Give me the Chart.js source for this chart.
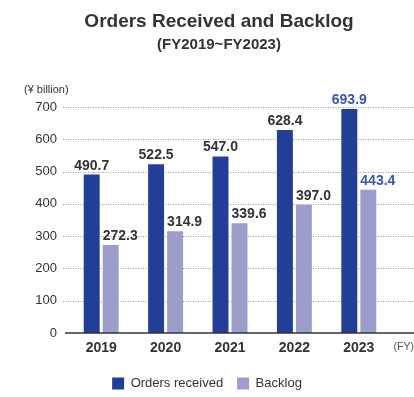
<!DOCTYPE html>
<html>
<head>
<meta charset="utf-8">
<script src="https://cdn.jsdelivr.net/npm/chart.js@4/dist/chart.umd.min.js"></script>
<style>
  html, body { margin: 0; padding: 0; background: #fff; }
  #wrap { width: 414px; height: 397px; position: relative; }
</style>
</head>
<body>
<div id="wrap"><canvas id="myChart" width="414" height="397"></canvas></div>
<script>
const years = ['2019', '2020', '2021', '2022', '2023'];
const ordersReceived = [490.7, 522.5, 547.0, 628.4, 693.9];
const backlog = [272.3, 314.9, 339.6, 397.0, 443.4];
const yTicks = [0, 100, 200, 300, 400, 500, 600, 700];

const fontFamily = "'Liberation Sans', Arial, Helvetica, sans-serif";
const textColor = '#333333';
const highlightColor = '#3a56b0';

// titles, unit labels, dotted grid, base line and value labels
const extrasPlugin = {
    id: 'extras',
    beforeDatasetsDraw(chart) {
        const ctx = chart.ctx;
        const y = chart.scales.y;
        ctx.save();
        ctx.strokeStyle = '#9a9a9a';
        ctx.lineWidth = 1;
        ctx.setLineDash([1, 1.5]);
        yTicks.forEach(t => {
            if (t === 0) return;
            const py = Math.round(y.getPixelForValue(t)) + 0.5;
            ctx.beginPath();
            ctx.moveTo(63, py);
            ctx.lineTo(414, py);
            ctx.stroke();
        });
        ctx.restore();
    },
    afterDatasetsDraw(chart) {
        const ctx = chart.ctx;
        const y = chart.scales.y;
        ctx.save();

        // base line
        const py0 = y.getPixelForValue(0);
        ctx.strokeStyle = '#333';
        ctx.lineWidth = 1.5;
        ctx.beginPath();
        ctx.moveTo(65, py0);
        ctx.lineTo(414, py0);
        ctx.stroke();

        // title
        ctx.fillStyle = textColor;
        ctx.textAlign = 'center';
        ctx.textBaseline = 'middle';
        ctx.font = 'bold 19px ' + fontFamily;
        ctx.fillText('Orders Received and Backlog', 219, 22);
        ctx.font = 'bold 15px ' + fontFamily;
        ctx.fillText('(FY2019~FY2023)', 219, 45);

        // unit labels
        ctx.font = '11px ' + fontFamily;
        ctx.textAlign = 'left';
        ctx.fillText('(\u00a5 billion)', 24, 90);
        ctx.fillStyle = '#555';
        ctx.font = '10.5px ' + fontFamily;
        ctx.textAlign = 'right';
        ctx.fillText('(FY)', 414, 347);

        // value labels: orders centred over the bar, backlog starting at the bar's left edge
        ctx.font = 'bold 14px ' + fontFamily;
        ctx.textBaseline = 'alphabetic';
        chart.data.datasets.forEach((ds, i) => {
            chart.getDatasetMeta(i).data.forEach((bar, j) => {
                ctx.fillStyle = j === years.length - 1 ? highlightColor : textColor;
                if (i === 0) {
                    ctx.textAlign = 'center';
                    ctx.fillText(ds.data[j].toFixed(1), bar.x, bar.y - 5);
                } else {
                    ctx.textAlign = 'left';
                    ctx.fillText(ds.data[j].toFixed(1), bar.x - bar.width / 2, bar.y - 5);
                }
            });
        });
        ctx.restore();
    }
};

const ctx = document.getElementById('myChart').getContext('2d');
const myChart = new Chart(ctx, {
    type: 'bar',
    data: {
        labels: years,
        datasets: [
            {
                label: 'Orders received',
                data: ordersReceived,
                backgroundColor: '#233e96',
                categoryPercentage: 0.59,
                barPercentage: 0.84
            },
            {
                label: 'Backlog',
                data: backlog,
                backgroundColor: '#9d9dcc',
                categoryPercentage: 0.59,
                barPercentage: 0.84
            }
        ]
    },
    options: {
        responsive: false,
        animation: false,
        devicePixelRatio: 1,
        layout: {
            padding: { top: 107, right: 0, left: 0, bottom: -3 }
        },
        scales: {
            x: {
                grid: { display: false, drawTicks: false },
                border: { display: false },
                ticks: {
                    color: textColor,
                    padding: 7,
                    font: { family: fontFamily, size: 14, weight: 'bold' }
                },
                afterFit(scale) { scale.height = 30; }
            },
            y: {
                min: 0,
                max: 700,
                grid: { display: false, drawTicks: false },
                border: { display: false },
                afterBuildTicks(scale) {
                    scale.ticks = yTicks.map(v => ({ value: v }));
                },
                ticks: {
                    color: textColor,
                    padding: 12,
                    font: { family: fontFamily, size: 13 }
                },
                afterFit(scale) { scale.width = 69; }
            },
            // empty right-hand axis that only reserves space
            yRight: {
                position: 'right',
                grid: { display: false, drawTicks: false },
                border: { display: false },
                ticks: { display: false },
                afterFit(scale) { scale.width = 23; }
            }
        },
        plugins: {
            legend: {
                position: 'bottom',
                labels: {
                    boxWidth: 12,
                    boxHeight: 12,
                    padding: 14,
                    color: textColor,
                    font: { family: fontFamily, size: 13 }
                }
            },
            title: { display: false },
            tooltip: { enabled: false }
        }
    },
    plugins: [extrasPlugin]
});
</script>
</body>
</html>
